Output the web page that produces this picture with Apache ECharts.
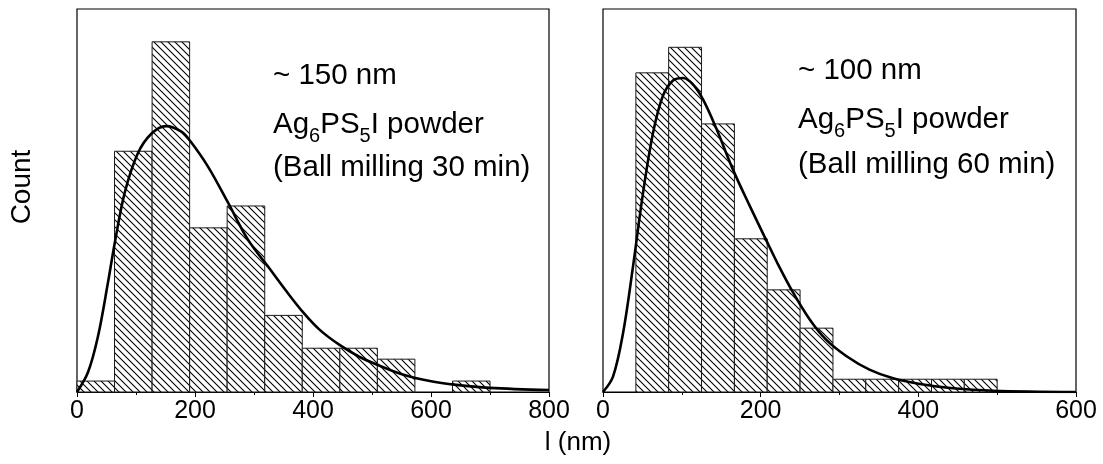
<!DOCTYPE html>
<html>
<head>
<meta charset="utf-8">
<script src="https://cdn.jsdelivr.net/npm/echarts@6/dist/echarts.min.js"></script>
<style>
  html, body { margin: 0; padding: 0; background: #fff; }
  #chart { width: 1103px; height: 464px; }
</style>
</head>
<body>
<div id="chart"></div>
<script>
// histogram bins (nm) and counts
var leftEdges = [0, 63.6, 127.3, 190.9, 254.5, 318.2, 381.8, 445.5, 509.1, 572.7, 636.4, 700];
var leftCounts = [1, 22, 32, 15, 17, 7, 4, 4, 3, 0, 1];
var rightEdges = [0, 41.7, 83.3, 125, 166.7, 208.3, 250, 291.7, 333.3, 375, 416.7, 458.3, 500];
var rightCounts = [0, 25, 27, 21, 12, 8, 5, 1, 1, 1, 1, 1];

// fitted curves
var leftFitX = [0, 18.6, 35.6, 52.5, 63.9, 80.8, 103, 126, 151, 177, 191, 222, 256, 290, 326, 355, 383, 411, 445, 479, 513, 552, 598, 643, 699, 800];
var leftFitY = [0, 1.8, 5.1, 10.0, 13.6, 18.2, 21.8, 23.6, 24.3, 23.8, 23.0, 20.6, 17.3, 13.9, 11.3, 9.2, 7.3, 5.7, 4.3, 3.2, 2.4, 1.6, 1.0, 0.65, 0.38, 0.18];
var rightFitX = [0, 12.7, 25.4, 38, 50.8, 63.5, 76, 88.8, 101.5, 114, 127, 144, 165, 186, 207, 222, 241, 262, 283, 309, 338, 368, 402, 444, 495, 600];
var rightFitY = [0, 1.2, 4.6, 9.8, 15.6, 20.3, 23.2, 24.4, 24.6, 24.1, 22.9, 20.6, 17.4, 14.6, 11.9, 10.0, 7.8, 5.7, 4.1, 2.8, 1.75, 1.07, 0.63, 0.29, 0.1, 0];

var xTicksLeft = [0, 800, 200];   // min, max, interval
var xTicksRight = [0, 600, 200];
var yMaxLeft = 35, yMaxRight = 30;

var font = 'Arial, "Liberation Sans", sans-serif';

// hatch pattern "\\\"
var hatch = document.createElement('canvas');
var p = 7;
hatch.width = p; hatch.height = p;
var hc = hatch.getContext('2d');
hc.fillStyle = '#fff';
hc.fillRect(0, 0, p, p);
hc.strokeStyle = '#000';
hc.lineWidth = 1.1;
hc.beginPath();
hc.moveTo(-1, -1); hc.lineTo(p + 1, p + 1);
hc.moveTo(p - 1, -1); hc.lineTo(p + 1, 1);
hc.moveTo(-1, p - 1); hc.lineTo(1, p + 1);
hc.stroke();

function binData(edges, counts) {
  return counts.map(function (c, i) { return [edges[i], edges[i + 1], c]; });
}
function pairs(xs, ys) {
  return xs.map(function (x, i) { return [x, ys[i]]; });
}
function renderBin(params, api) {
  var c = api.value(2);
  if (!c) return;
  var a = api.coord([api.value(0), 0]);
  var b = api.coord([api.value(1), c]);
  return {
    type: 'rect',
    shape: { x: a[0], y: b[1], width: b[0] - a[0], height: a[1] - b[1] },
    style: { fill: { image: hatch, repeat: 'repeat' }, stroke: '#1a1a1a', lineWidth: 1 }
  };
}

function xAxis(idx, t) {
  return {
    type: 'value', gridIndex: idx, min: t[0], max: t[1], interval: t[2],
    axisLine: { show: true, lineStyle: { color: '#000', width: 1.2 } },
    axisTick: { show: true, inside: false, length: 5, lineStyle: { color: '#000' } },
    minorTick: { show: true, splitNumber: 2, length: 3, lineStyle: { color: '#000' } },
    axisLabel: { color: '#000', fontSize: 25, fontFamily: font, margin: 7 },
    splitLine: { show: false }
  };
}
function yAxis(idx, max) {
  return {
    type: 'value', gridIndex: idx, min: 0, max: max,
    axisLine: { show: false }, axisTick: { show: false },
    axisLabel: { show: false }, splitLine: { show: false }
  };
}

var sub = { fontSize: 20, fontFamily: font, fill: '#000', padding: [22, 0, 0, 0] };
function note(x, y, text) {
  return {
    type: 'text', x: x, y: y,
    style: { text: text, fontSize: 29.5, fontFamily: font, fill: '#000',
             align: 'left', verticalAlign: 'middle', rich: { sub: sub } }
  };
}

var chart = echarts.init(document.getElementById('chart'));
chart.setOption({
  backgroundColor: '#fff',
  animation: false,
  grid: [
    { left: 77, top: 9, width: 472, height: 383, show: true, borderColor: '#000', borderWidth: 1.2 },
    { left: 603, top: 9, width: 473, height: 383, show: true, borderColor: '#000', borderWidth: 1.2 }
  ],
  xAxis: [xAxis(0, xTicksLeft), xAxis(1, xTicksRight)],
  yAxis: [yAxis(0, yMaxLeft), yAxis(1, yMaxRight)],
  series: [
    { type: 'custom', xAxisIndex: 0, yAxisIndex: 0, renderItem: renderBin,
      encode: { x: [0, 1], y: 2 }, data: binData(leftEdges, leftCounts) },
    { type: 'custom', xAxisIndex: 1, yAxisIndex: 1, renderItem: renderBin,
      encode: { x: [0, 1], y: 2 }, data: binData(rightEdges, rightCounts) },
    { type: 'line', xAxisIndex: 0, yAxisIndex: 0, smooth: 0.35, symbol: 'none', z: 5,
      lineStyle: { color: '#000', width: 2.6 }, data: pairs(leftFitX, leftFitY) },
    { type: 'line', xAxisIndex: 1, yAxisIndex: 1, smooth: 0.35, symbol: 'none', z: 5,
      lineStyle: { color: '#000', width: 2.6 }, data: pairs(rightFitX, rightFitY) }
  ],
  graphic: [
    note(273, 76, '~ 150 nm'),
    note(273, 125, 'Ag{sub|6}PS{sub|5}I powder'),
    note(273, 168, '(Ball milling 30 min)'),
    note(798, 71, '~ 100 nm'),
    note(798, 120, 'Ag{sub|6}PS{sub|5}I powder'),
    note(798, 165, '(Ball milling 60 min)'),
    { type: 'text', x: 22, y: 187, rotation: Math.PI / 2,
      style: { text: 'Count', fontSize: 28, fontFamily: font, fill: '#000', align: 'center', verticalAlign: 'middle' } },
    { type: 'text', x: 578, y: 443,
      style: { text: 'l (nm)', fontSize: 26, fontFamily: font, fill: '#000', align: 'center', verticalAlign: 'middle' } }
  ]
});
</script>
</body>
</html>
